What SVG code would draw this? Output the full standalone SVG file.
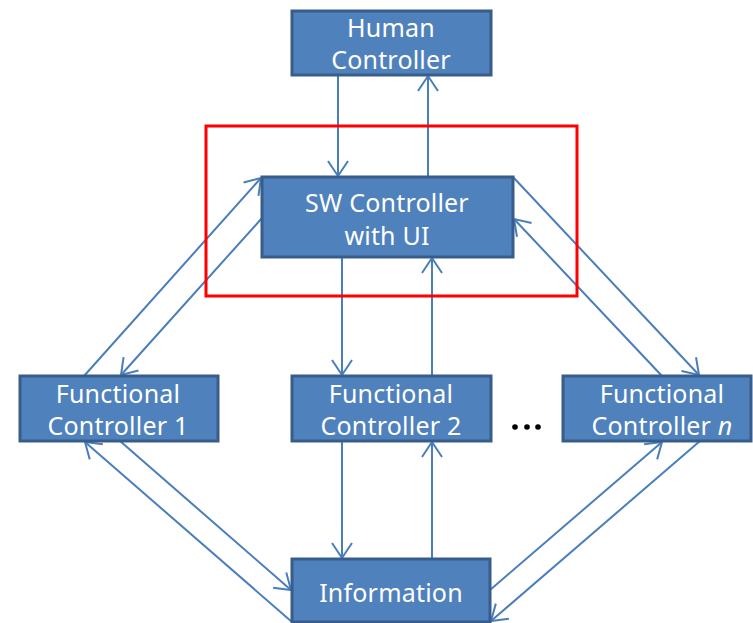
<svg xmlns="http://www.w3.org/2000/svg" width="753" height="623" viewBox="0 0 753 623">
  <style>
    .box { fill: #4F81BD; stroke: #385D8A; stroke-width: 3; }
    .lbl { fill: #FFFFFF; font-family: "Noto Sans", "Open Sans", "DejaVu Sans", sans-serif; font-size: 25px; letter-spacing: 0.2px; text-anchor: middle; }
    .wire { stroke: #4A7EBB; stroke-width: 2; fill: none; marker-end: url(#head); }
  </style>
  <defs>
    <marker id="head" viewBox="0 0 18 22" refX="16" refY="11" markerWidth="18" markerHeight="22" markerUnits="userSpaceOnUse" orient="auto">
      <path d="M1,1 L16,11 L1,21" fill="none" stroke="#4A7EBB" stroke-width="2"/>
    </marker>
  </defs>
  <rect width="753" height="623" fill="#FFFFFF"/>

  <g id="connectors">
    <!-- Human <-> SW -->
    <line class="wire" x1="338" y1="75" x2="338" y2="176"/>
    <line class="wire" x1="428" y1="177" x2="428" y2="76"/>
    <!-- SW <-> FC2 -->
    <line class="wire" x1="342" y1="257" x2="342" y2="375"/>
    <line class="wire" x1="432" y1="376" x2="432" y2="258"/>
    <!-- SW <-> FC1 -->
    <line class="wire" x1="84" y1="376" x2="261" y2="178"/>
    <line class="wire" x1="262" y1="218" x2="121" y2="375"/>
    <!-- SW <-> FCn -->
    <line class="wire" x1="513" y1="177" x2="699" y2="375"/>
    <line class="wire" x1="662" y1="376" x2="514" y2="219"/>
    <!-- FC2 <-> Information -->
    <line class="wire" x1="342" y1="441" x2="342" y2="558"/>
    <line class="wire" x1="432" y1="559" x2="432" y2="442"/>
    <!-- FC1 <-> Information -->
    <line class="wire" x1="292" y1="622" x2="85" y2="442"/>
    <line class="wire" x1="120" y1="441" x2="291" y2="590"/>
    <!-- FCn <-> Information -->
    <line class="wire" x1="490" y1="590" x2="662" y2="442"/>
    <line class="wire" x1="700" y1="441" x2="491" y2="621"/>
  </g>

  <g id="selection-frame">
    <rect x="206" y="126" width="371" height="170" fill="none" stroke="#FF0000" stroke-width="3"/>
  </g>

  <g id="human-controller">
    <rect class="box" x="292" y="11" width="199" height="64"/>
    <text class="lbl" x="391" y="37">Human</text>
    <text class="lbl" x="391" y="69">Controller</text>
  </g>

  <g id="sw-controller">
    <rect class="box" x="262" y="177" width="251" height="80"/>
    <text class="lbl" x="387" y="212">SW Controller</text>
    <text class="lbl" x="387" y="245">with UI</text>
  </g>

  <g id="functional-controller-1">
    <rect class="box" x="20" y="376" width="198" height="65"/>
    <text class="lbl" x="118" y="403">Functional</text>
    <text class="lbl" x="118" y="435">Controller 1</text>
  </g>

  <g id="functional-controller-2">
    <rect class="box" x="292" y="376" width="199" height="65"/>
    <text class="lbl" x="391" y="403">Functional</text>
    <text class="lbl" x="391" y="435">Controller 2</text>
  </g>

  <g id="ellipsis">
    <circle cx="515" cy="427" r="2.8" fill="#000000"/>
    <circle cx="527" cy="427" r="2.8" fill="#000000"/>
    <circle cx="538" cy="427" r="2.8" fill="#000000"/>
  </g>

  <g id="functional-controller-n">
    <rect class="box" x="563" y="376" width="188" height="65"/>
    <text class="lbl" x="662" y="403">Functional</text>
    <text class="lbl" x="662" y="435">Controller <tspan font-style="italic">n</tspan></text>
  </g>

  <g id="information">
    <rect class="box" x="292" y="559" width="198" height="63"/>
    <text class="lbl" x="391" y="602">Information</text>
  </g>
</svg>
